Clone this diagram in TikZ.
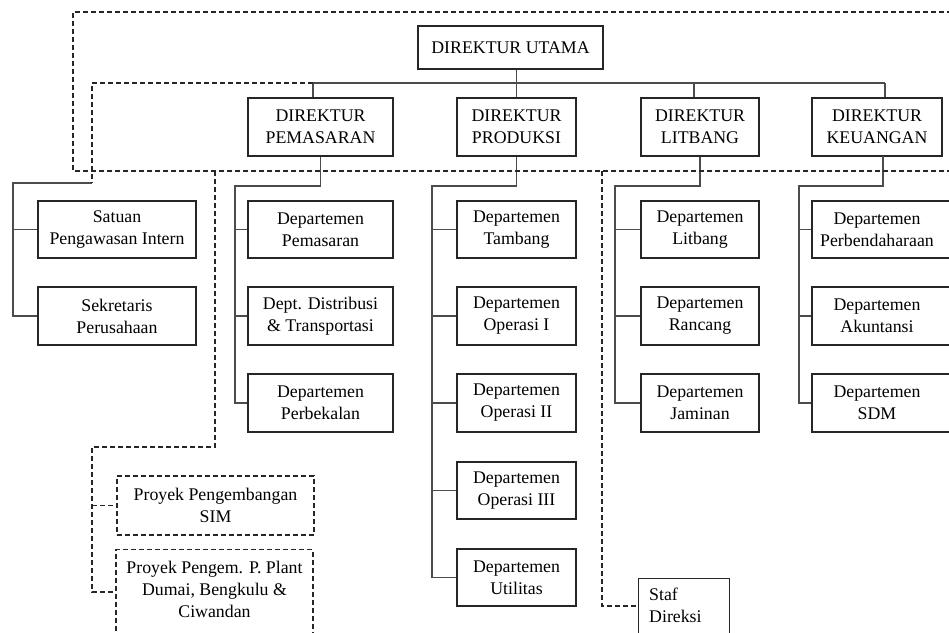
\documentclass[tikz,border=0pt]{standalone}
\usepackage{fontspec}
\setmainfont{Liberation Serif}
\begin{document}
\begin{tikzpicture}[x=1pt,y=-1pt,
  box/.style={draw=black!85, line width=1.2pt, inner sep=0pt, align=center,
    font=\fontsize{17.8}{22}\selectfont, text=black},
  dbox/.style={box, dashed, dash pattern=on 5pt off 3pt},
  txt/.style={inner sep=0pt, align=center, font=\fontsize{17.8}{22}\selectfont, text=black},
  con/.style={draw=black!70, line width=1.3pt},
  dcon/.style={draw=black!85, line width=1.1pt, dash pattern=on 5pt off 3pt},
]
\useasboundingbox (0,0) rectangle (949,632);

% top level
\node[box, minimum width=185pt, minimum height=43pt] (utama) at (510.5,47.5) {DIREKTUR UTAMA};
\node[box, minimum width=145pt, minimum height=58pt] (dpem) at (320.5,127) {DIREKTUR\\PEMASARAN};
\node[box, minimum width=119pt, minimum height=58pt] (dprod) at (516.5,127) {DIREKTUR\\PRODUKSI};
\node[box, minimum width=118pt, minimum height=58pt] (dlit) at (700,127) {DIREKTUR\\LITBANG};
\node[box, minimum width=130pt, minimum height=58pt] (dkeu) at (877,127) {DIREKTUR\\KEUANGAN};

% staff units
\node[box, minimum width=158pt, minimum height=57pt] (spi) at (117,229.5) {Satuan\\Pengawasan Intern};
\node[box, minimum width=158pt, minimum height=58pt] (sek) at (117,316) {Sekretaris\\Perusahaan};

% pemasaran
\node[box, minimum width=145pt, minimum height=57pt] (pm1) at (320.5,229.5) {Departemen\\Pemasaran};
\node[box, minimum width=145pt, minimum height=58pt] (pm2) at (320.5,316) {Dept. Distribusi\\\& Transportasi};
\node[box, minimum width=145pt, minimum height=58pt] (pm3) at (320.5,403) {Departemen\\Perbekalan};

% produksi
\node[box, minimum width=119pt, minimum height=57pt] (pr1) at (516.5,229.5) {Departemen\\Tambang};
\node[box, minimum width=119pt, minimum height=58pt] (pr2) at (516.5,316) {Departemen\\Operasi I};
\node[box, minimum width=119pt, minimum height=58pt] (pr3) at (516.5,403) {Departemen\\Operasi II};
\node[box, minimum width=119pt, minimum height=57pt] (pr4) at (516.5,490.5) {Departemen\\Operasi III};
\node[box, minimum width=119pt, minimum height=57pt] (pr5) at (516.5,577.5) {Departemen\\Utilitas};

% litbang
\node[box, minimum width=118pt, minimum height=57pt] (lb1) at (700,229.5) {Departemen\\Litbang};
\node[box, minimum width=118pt, minimum height=58pt] (lb2) at (700,316) {Departemen\\Rancang};
\node[box, minimum width=118pt, minimum height=58pt] (lb3) at (700,403) {Departemen\\Jaminan};

% keuangan
\node[box, minimum width=148pt, minimum height=57pt] (ku1) at (886,229.5) {};
\node[txt] (ku1t) at (877,229.5) {Departemen\\Perbendaharaan};
\node[box, minimum width=148pt, minimum height=58pt] (ku2) at (886,316) {};
\node[txt] (ku2t) at (877,316) {Departemen\\Akuntansi};
\node[box, minimum width=148pt, minimum height=58pt] (ku3) at (886,403) {};
\node[txt] (ku3t) at (877,403) {Departemen\\SDM};

% projects
\node[dbox, minimum width=197pt, minimum height=59pt] (sim) at (215.5,505.5) {Proyek Pengembangan\\SIM};
\node[dbox, minimum width=197pt, minimum height=90pt, anchor=north] (plant) at (214.5,549) {};
\node[txt] (plantt) at (214.5,589) {Proyek Pengem. P. Plant\\Dumai, Bengkulu \&\\Ciwandan};

% staf direksi
\node[box, minimum width=91pt, minimum height=70pt, anchor=north west] (staf) at (638,578) {};
\node[txt, align=left, anchor=west] (staft) at (649,605) {Staf\\Direksi};

% coordinates
\coordinate (bL) at (313,83);
\coordinate (bR) at (885,83);
\coordinate (bLit) at (694,83);
\coordinate (dL) at (92,83);
\coordinate (dLb) at (92,183);
\coordinate (sL) at (13,183);

% solid connectors
\draw[con] (utama.south -| dprod.north) -- (dprod.north);
\draw[con] (bL) -- (bR);
\draw[con] (bL) -- (bL |- dpem.north);
\draw[con] (bLit) -- (bLit |- dlit.north);
\draw[con] (bR) -- (bR |- dkeu.north);

\draw[con] (dLb) -- (sL) -- (sL |- sek.west) -- (sek.west);
\draw[con] (sL |- spi.west) -- (spi.west);

\coordinate (pmT) at (235,186);
\draw[con] (dpem.south) -- (dpem.south |- pmT) -- (pmT) -- (pmT |- pm3.west) -- (pm3.west);
\draw[con] (pmT |- pm1.west) -- (pm1.west);
\draw[con] (pmT |- pm2.west) -- (pm2.west);

\coordinate (prT) at (432,186);
\draw[con] (dprod.south) -- (dprod.south |- prT) -- (prT) -- (prT |- pr5.west) -- (pr5.west);
\foreach \n in {pr1,pr2,pr3,pr4} \draw[con] (prT |- \n.west) -- (\n.west);

\coordinate (lbT) at (615,186);
\draw[con] (dlit.south) -- (dlit.south |- lbT) -- (lbT) -- (lbT |- lb3.west) -- (lb3.west);
\foreach \n in {lb1,lb2} \draw[con] (lbT |- \n.west) -- (\n.west);

\coordinate (kuT) at (799,186);
\coordinate (kuD) at (883,156);
\draw[con] (kuD) -- (kuD |- kuT) -- (kuT) -- (kuT |- ku3.west) -- (ku3.west);
\foreach \n in {ku1,ku2} \draw[con] (kuT |- \n.west) -- (\n.west);

% dashed connectors
\draw[dcon] (960,12) -- (73,12) -- (73,171) -- (960,171);
\draw[dcon] (bL) -- (dL) -- (dLb);

\coordinate (pjT) at (215,171);
\coordinate (pjM) at (92,447);
\coordinate (pjB) at (92,592);
\draw[dcon] (pjT) -- (pjT |- pjM) -- (pjM) -- (pjB) -- (pjB -| plant.west);
\draw[dcon] (pjM |- sim.west) -- (sim.west);

\coordinate (sfT) at (602,171);
\coordinate (sfB) at (602,606);
\draw[dcon] (sfT) -- (sfB) -- (sfB -| staf.west);
\end{tikzpicture}
\end{document}
